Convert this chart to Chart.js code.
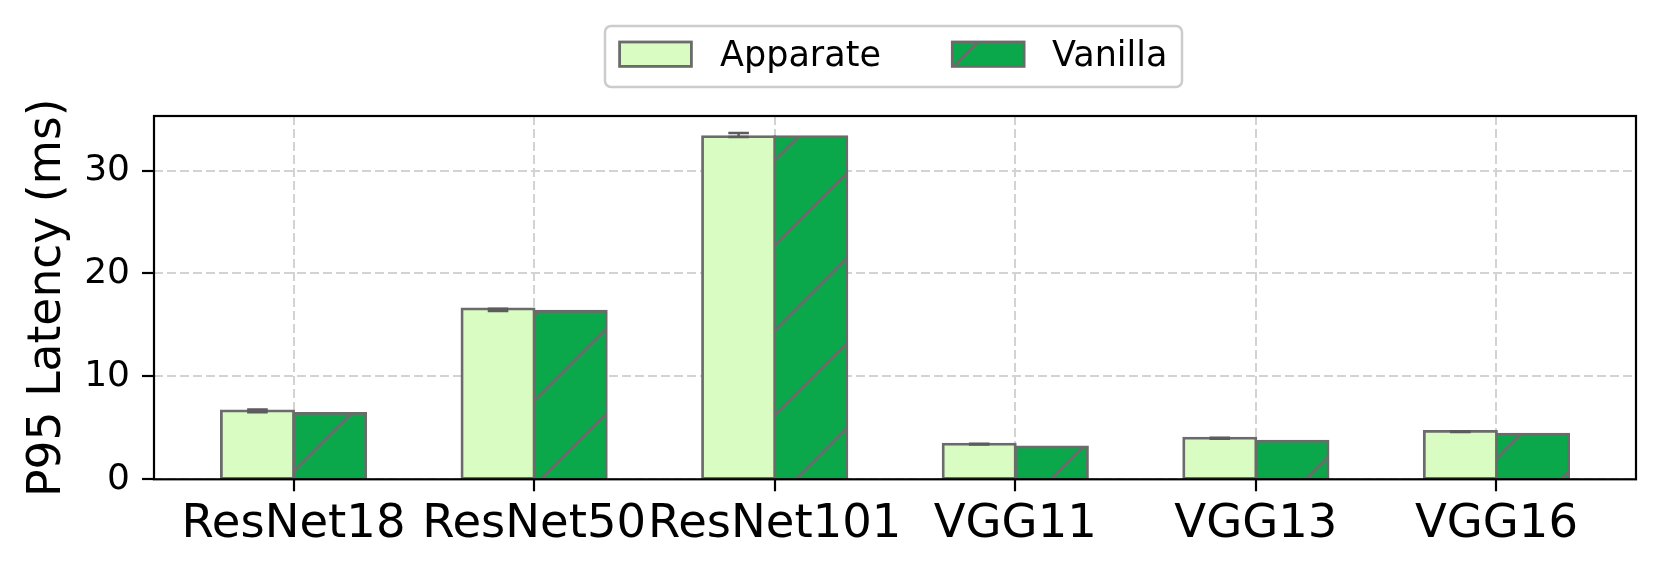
<!DOCTYPE html>
<html>
<head>
<meta charset="utf-8">
<script src="https://cdn.jsdelivr.net/npm/chart.js@4.4.0/dist/chart.umd.min.js"></script>
<style>
    html, body { margin: 0; padding: 0; background: #ffffff; }
    #wrap { width: 1661px; height: 575px; }
</style>
</head>
<body>
<div id="wrap"><canvas id="chart" width="1661" height="575"></canvas></div>
<script>
// Данные графика
const categories = ['ResNet18', 'ResNet50', 'ResNet101', 'VGG11', 'VGG13', 'VGG16'];
const seriesNames = ['Apparate', 'Vanilla'];
const apparateValues = [6.65, 16.55, 33.3, 3.42, 4.0, 4.65];
const apparateErrUp = [0.12, 0.03, 0.35, 0.03, 0.03, 0.03];
const apparateErrDown = [0.14, 0.2, 0.03, 0.05, 0.05, 0.05];
const vanillaValues = [6.4, 16.33, 33.3, 3.15, 3.7, 4.38];
const yTicks = [0, 10, 20, 30];

const FONT = 'DejaVu Sans';
const EDGE = '#6b6b6b';
const LIGHT = '#d9fcc2';
const GREEN = '#0aa84b';

// Штриховка '/' для Vanilla (линии x + y = k * size)
function makeHatch() {
    const size = 85;
    const pc = document.createElement('canvas');
    pc.width = size;
    pc.height = size;
    const c = pc.getContext('2d');
    c.fillStyle = GREEN;
    c.fillRect(0, 0, size, size);
    c.strokeStyle = EDGE;
    c.lineWidth = 3;
    [0, size, size * 2].forEach(k => {
        c.beginPath();
        c.moveTo(k + 10, -10);
        c.lineTo(-10, k + 10);
        c.stroke();
    });
    return document.getElementById('chart').getContext('2d').createPattern(pc, 'repeat');
}

const hatch = makeHatch();

// Рамка, погрешности и легенда
const extrasPlugin = {
    id: 'extras',
    afterDatasetsDraw(chart) {
        const ctx = chart.ctx;
        const y = chart.scales.y;
        const meta = chart.getDatasetMeta(0);
        ctx.save();
        ctx.strokeStyle = '#5c5c5c';
        ctx.lineWidth = 2.5;
        meta.data.forEach((bar, i) => {
            const v = apparateValues[i];
            const yTop = y.getPixelForValue(v + apparateErrUp[i]);
            const yBot = y.getPixelForValue(v - apparateErrDown[i]);
            ctx.beginPath();
            ctx.moveTo(bar.x, yTop);
            ctx.lineTo(bar.x, yBot);
            ctx.moveTo(bar.x - 10.3, yTop);
            ctx.lineTo(bar.x + 10.3, yTop);
            ctx.moveTo(bar.x - 10.3, yBot);
            ctx.lineTo(bar.x + 10.3, yBot);
            ctx.stroke();
        });
        ctx.restore();
    },
    afterDraw(chart) {
        const ctx = chart.ctx;
        const a = chart.chartArea;
        ctx.save();
        ctx.strokeStyle = '#000000';
        ctx.lineWidth = 2.2;
        ctx.strokeRect(a.left, a.top, a.right - a.left, a.bottom - a.top);

        // легенда
        ctx.fillStyle = '#ffffff';
        ctx.strokeStyle = '#cccccc';
        ctx.lineWidth = 2.5;
        ctx.beginPath();
        ctx.roundRect(605, 26, 577, 61, 6);
        ctx.fill();
        ctx.stroke();

        const handles = [619.6, 952.3];
        const textX = [720, 1052];
        chart.data.datasets.forEach((ds, i) => {
            ctx.fillStyle = ds.backgroundColor;
            ctx.fillRect(handles[i], 42, 71.8, 24.4);
            ctx.strokeStyle = EDGE;
            ctx.lineWidth = 2.8;
            ctx.strokeRect(handles[i], 42, 71.8, 24.4);
            ctx.fillStyle = '#000000';
            ctx.font = '35px "' + FONT + '"';
            ctx.textBaseline = 'alphabetic';
            ctx.textAlign = 'left';
            ctx.fillText(ds.label, textX[i], 66);
        });
        ctx.restore();
    }
};

new Chart(document.getElementById('chart'), {
    type: 'bar',
    data: {
        datasets: [{
            label: seriesNames[0],
            data: apparateValues.map((v, i) => ({ x: i, y: v })),
            backgroundColor: LIGHT,
            borderColor: EDGE,
            borderWidth: 2.8
        }, {
            label: seriesNames[1],
            data: vanillaValues.map((v, i) => ({ x: i, y: v })),
            backgroundColor: hatch,
            borderColor: EDGE,
            borderWidth: 2.8
        }]
    },
    options: {
        responsive: false,
        animation: false,
        devicePixelRatio: 1,
        layout: { padding: { top: 116, right: 25, bottom: 0, left: 0 } },
        datasets: {
            bar: {
                categoryPercentage: 0.6,
                barPercentage: 1.0,
                borderSkipped: false,
                inflateAmount: 1.4
            }
        },
        plugins: {
            legend: { display: false },
            tooltip: { enabled: false }
        },
        scales: {
            x: {
                type: 'linear',
                min: -0.58,
                max: 5.58,
                offset: false,
                afterBuildTicks: scale => {
                    scale.ticks = categories.map((c, i) => ({ value: i }));
                },
                afterFit: scale => { scale.height = 95.7; },
                ticks: {
                    callback: value => categories[value],
                    color: '#000000',
                    font: { family: FONT, size: 46.5 },
                    padding: 6,
                    maxRotation: 0,
                    autoSkip: false
                },
                grid: {
                    offset: false,
                    color: '#d3d3d3',
                    lineWidth: 2,
                    tickColor: '#000000',
                    tickLength: 12,
                    tickWidth: 2.2,
                    tickBorderDash: []
                },
                border: { display: false, dash: [9, 4] }
            },
            y: {
                min: 0,
                max: 35.3,
                afterBuildTicks: scale => {
                    scale.ticks = yTicks.map(v => ({ value: v }));
                },
                afterFit: scale => { scale.width = 154; },
                ticks: {
                    color: '#000000',
                    font: { family: FONT, size: 36 },
                    padding: 12
                },
                grid: {
                    color: '#d3d3d3',
                    lineWidth: 2,
                    tickColor: '#000000',
                    tickLength: 12,
                    tickWidth: 2.2,
                    tickBorderDash: []
                },
                border: { display: false, dash: [9, 4] },
                title: {
                    display: true,
                    text: 'P95 Latency (ms)',
                    color: '#000000',
                    font: { family: FONT, size: 45.6 },
                    padding: { top: 21, bottom: 0 }
                }
            }
        }
    },
    plugins: [extrasPlugin]
});
</script>
</body>
</html>
